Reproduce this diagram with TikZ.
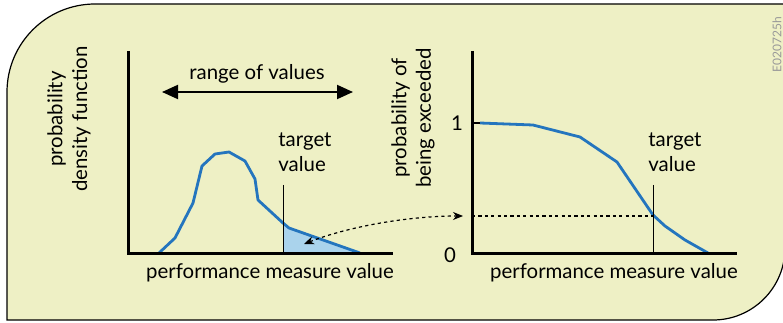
\documentclass[tikz,border=0pt]{standalone}
\usepackage{fontspec}
\setmainfont{Lato}
\usetikzlibrary{arrows.meta,calc}
\definecolor{paper}{RGB}{238,240,197}
\definecolor{curveblue}{RGB}{36,117,190}
\definecolor{tailblue}{RGB}{170,211,236}
\tikzset{
  axis/.style={line width=1.5pt},
  curve/.style={curveblue,line width=1.4pt,line join=round},
  target/.style={line width=0.5pt},
  dots/.style={line width=0.6pt,dash pattern=on 1.6pt off 1.6pt},
  lbl/.style={font=\fontsize{10.2}{12.3}\selectfont,inner sep=0pt}
}
\begin{document}
\begin{tikzpicture}[x=0.5pt,y=0.5pt]
\useasboundingbox (0,0) rectangle (783,322);
% frame
\draw[fill=paper,line width=0.6pt] (7,2) -- (7,230) arc[start angle=180,end angle=90,radius=44pt]
      -- (800,318) -- (785,318) -- (785,74) arc[start angle=0,end angle=-90,radius=36pt] -- cycle;
\node[rotate=90,font=\fontsize{6}{7}\selectfont,text=black!40,inner sep=0pt] (code) at (777,277) {E020725h};

% left chart
\coordinate (ltop) at (128,271);
\coordinate (lorig) at (128,69);
\coordinate (lend) at (393,69);
\fill[tailblue] (283,69) -- (283,99) -- (289,94) -- (360,69) -- cycle;
\draw[curve] (159,69) -- (175,84) -- (193,119) -- (202,156) -- (215,168) -- (229,170)
      -- (245,161) -- (255,143) -- (258,122) -- (283,99) -- (289,94) -- (360,69);
\draw[target] (283,137) -- (283,69);
\draw[axis] (ltop) -- (lorig) -- (lend);
\coordinate (rl) at (162,230);
\coordinate (rr) at (353,230);
\draw[line width=1pt,{Triangle[length=8pt,width=7pt]}-{Triangle[length=8pt,width=7pt]}] (rl) -- (rr);
\node[lbl] (range) at (257,248) {range of values};
\node[lbl,align=left,anchor=west] (ltarget) at (278,170) {target\\value};
\node[lbl,rotate=90,align=center] (pdf) at (69,203) {probability\\density function};
\node[lbl] (lx) at (270,49) {performance measure value};

% right chart
\coordinate (rtop) at (472,271);
\coordinate (rorig) at (472,69);
\coordinate (rend) at (737,69);
\draw[curve] (480,199) -- (533,197) -- (580,185) -- (617,160) -- (653,107) -- (665,96)
      -- (685,82) -- (708,69);
\draw[target] (653,137) -- (653,69);
\draw[axis] (rtop) -- (rorig) -- (rend);
\draw[line width=1pt] (472,199) -- (480,199);
\node[lbl] (one) at (457,199) {1};
\node[lbl] (zero) at (450,67) {0};
\node[lbl,align=left,anchor=west] (rtarget) at (648,170) {target\\value};
\node[lbl,rotate=90,align=center] (pexc) at (413,204) {probability of\\being exceeded};
\node[lbl] (rx) at (614,49) {performance measure value};

% link
\coordinate (tail) at (304,78);
\coordinate (tip) at (463,106);
\coordinate (hit) at (653,106);
\draw[dots] (472,106) -- (hit);
\draw[dots,{Stealth[length=5pt,width=4pt]}-{Stealth[length=5pt,width=4pt]}] (tail)
      .. controls (350,96) and (410,106) .. (tip);
\end{tikzpicture}
\end{document}
